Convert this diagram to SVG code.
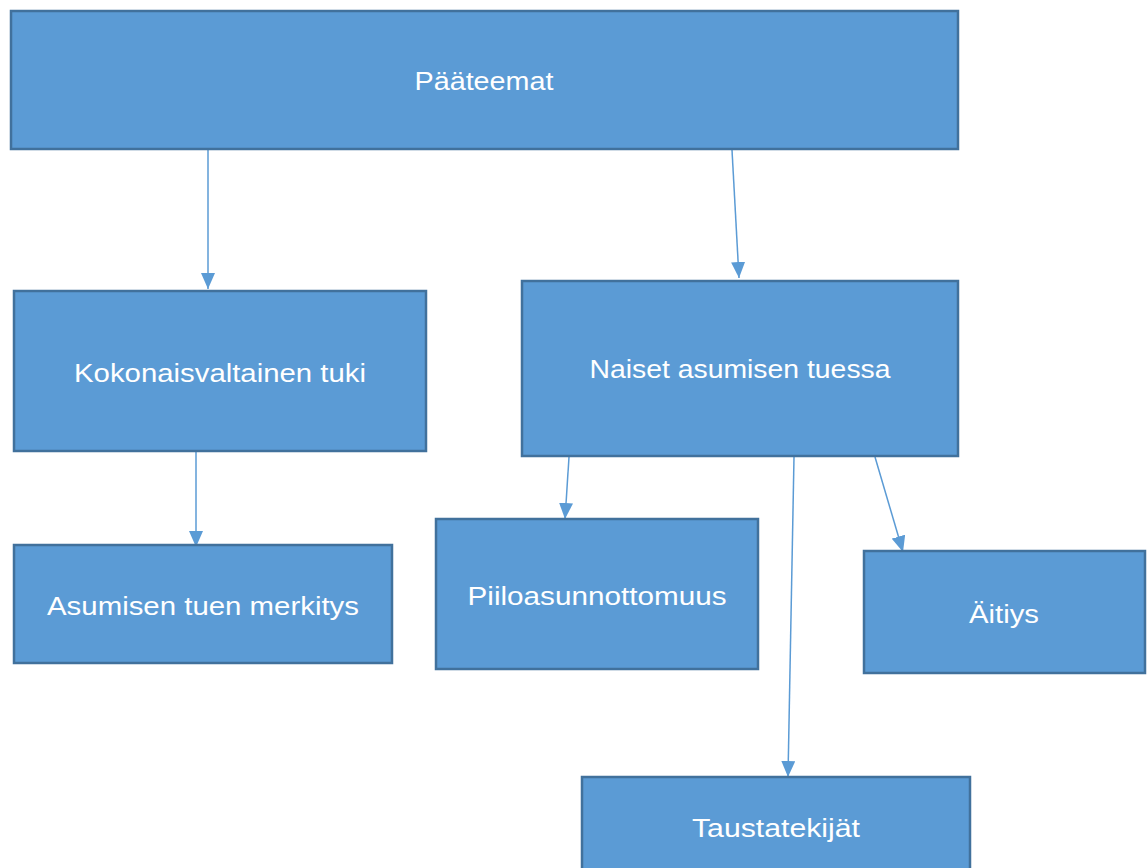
<svg xmlns="http://www.w3.org/2000/svg" width="1147" height="868" viewBox="0 0 1147 868">
<defs>
<style>
.box{fill:#5B9BD5;stroke:#41719C;stroke-width:2.5}
.lbl{fill:#FFFFFF;font-family:"Liberation Sans","Open Sans",sans-serif;font-size:25px;text-anchor:middle}
.conn{stroke:#5B9BD5;stroke-width:1.5;fill:none;marker-end:url(#arr)}
</style>
<marker id="arr" markerWidth="16" markerHeight="14" refX="16" refY="7" orient="auto" markerUnits="userSpaceOnUse">
<path d="M0,0 L16,7 L0,14 Z" fill="#5B9BD5"/>
</marker>
</defs>
<rect width="1147" height="868" fill="#FFFFFF"/>
<g id="connectors">
<line class="conn" x1="208" y1="150" x2="208" y2="289"/>
<line class="conn" x1="732" y1="150" x2="739" y2="278"/>
<line class="conn" x1="196" y1="452" x2="196" y2="547"/>
<line class="conn" x1="569" y1="457" x2="565" y2="519"/>
<line class="conn" x1="794" y1="457" x2="788" y2="777"/>
<line class="conn" x1="875" y1="457" x2="903" y2="552"/>
</g>
<g id="n-paateemat">
<rect class="box" x="11" y="11" width="947" height="138"/>
<text class="lbl" x="484" y="90" textLength="139" lengthAdjust="spacingAndGlyphs">Pääteemat</text>
</g>
<g id="n-kokonaisvaltainen">
<rect class="box" x="14" y="291" width="412" height="160"/>
<text class="lbl" x="220" y="382" textLength="292" lengthAdjust="spacingAndGlyphs">Kokonaisvaltainen tuki</text>
</g>
<g id="n-naiset">
<rect class="box" x="522" y="281" width="436" height="175"/>
<text class="lbl" x="740" y="378" textLength="301" lengthAdjust="spacingAndGlyphs">Naiset asumisen tuessa</text>
</g>
<g id="n-asumisen">
<rect class="box" x="14" y="545" width="378" height="118"/>
<text class="lbl" x="203" y="615" textLength="312" lengthAdjust="spacingAndGlyphs">Asumisen tuen merkitys</text>
</g>
<g id="n-piilo">
<rect class="box" x="436" y="519" width="322" height="150"/>
<text class="lbl" x="597" y="605" textLength="259" lengthAdjust="spacingAndGlyphs">Piiloasunnottomuus</text>
</g>
<g id="n-aitiys">
<rect class="box" x="864" y="551" width="281" height="122"/>
<text class="lbl" x="1004" y="623" textLength="70" lengthAdjust="spacingAndGlyphs">Äitiys</text>
</g>
<g id="n-taustatekijat">
<rect class="box" x="582" y="777" width="388" height="100"/>
<text class="lbl" x="776" y="837" textLength="168" lengthAdjust="spacingAndGlyphs">Taustatekijät</text>
</g>
</svg>
